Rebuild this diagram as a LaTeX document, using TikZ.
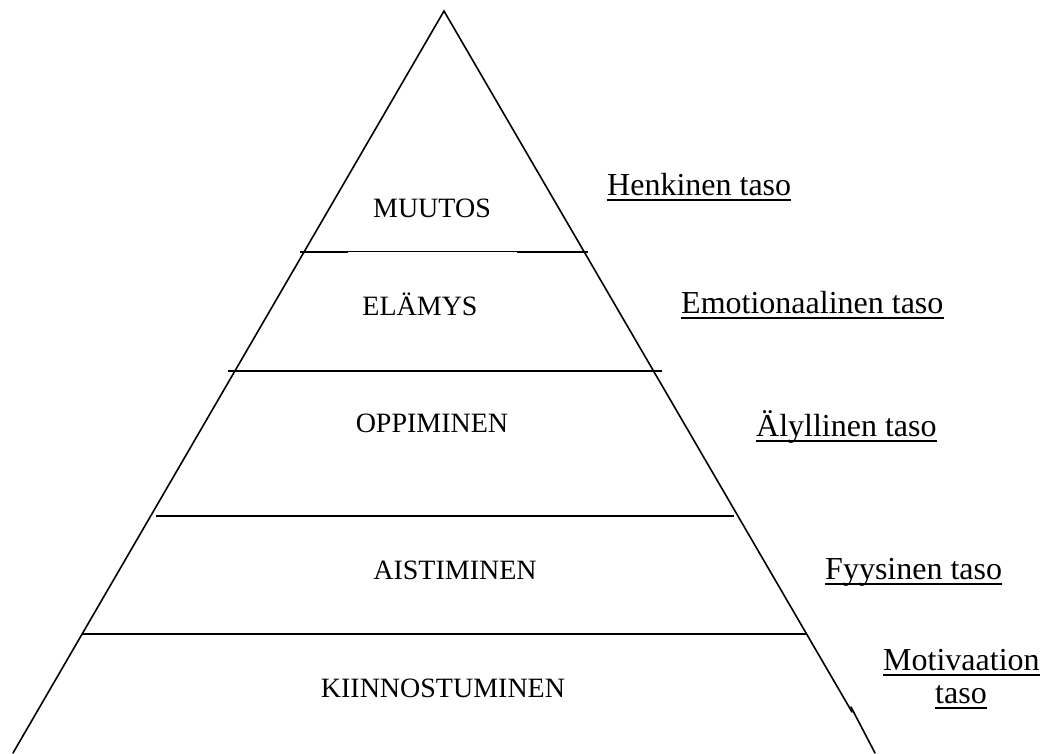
\documentclass[tikz,border=0pt]{standalone}
\usepackage{fontspec}
\setmainfont{Liberation Serif}
\begin{document}
\begin{tikzpicture}[x=1pt,y=-1pt,
  edge/.style={line width=1.6pt, line cap=round},
  sep/.style={line width=1.5pt},
  lvl/.style={font=\fontsize{28}{32}\selectfont, inner sep=0pt, anchor=base},
  tier/.style={font=\fontsize{32}{36}\selectfont, inner sep=0pt, anchor=base west},
  ul/.style={line width=2.2pt}]
\useasboundingbox (0,0) rectangle (1050,753);
% pyramid outline
\coordinate (apex) at (444,11);
\coordinate (bl) at (13,753);
\coordinate (rb1) at (852,712);
\coordinate (rb2) at (851,707);
\coordinate (br) at (875,753);
\draw[edge] (bl) -- (apex) -- (rb1);
\draw[edge] (rb2) -- (br);
% separators
\coordinate (s1a) at (300,251.5); \coordinate (s1b) at (588,251.5);
\coordinate (s1c) at (348,251.5); \coordinate (s1d) at (517,251.5);
\draw[line width=1pt] (s1a) -- (s1b);
\draw[line width=2pt] (s1a) -- (s1c);
\draw[line width=2pt] (s1d) -- (s1b);
\coordinate (s2a) at (228,371); \coordinate (s2b) at (662,371);
\draw[sep] (s2a) -- (s2b);
\coordinate (s3a) at (156,516); \coordinate (s3b) at (734,516);
\draw[sep] (s3a) -- (s3b);
\coordinate (s4a) at (83,634); \coordinate (s4b) at (806,634);
\draw[sep] (s4a) -- (s4b);
% level labels
\node[lvl] (muutos) at (432,217) {MUUTOS};
\node[lvl] (elamys) at (420,315) {ELÄMYS};
\node[lvl] (oppiminen) at (432,432) {OPPIMINEN};
\node[lvl] (aistiminen) at (455,579) {AISTIMINEN};
\node[lvl] (kiinn) at (443,697) {KIINNOSTUMINEN};
% tier labels
\node[tier] (henk) at (607,195) {Henkinen taso};
\node[tier] (emo) at (681,313) {Emotionaalinen taso};
\node[tier] (aly) at (756,436) {Älyllinen taso};
\node[tier] (fyys) at (825,579) {Fyysinen taso};
\node[tier] (moti) at (883,670) {Motivaation};
\node[tier, anchor=base] (taso) at (961,703) {taso};
\foreach \n in {henk,emo,aly,fyys,moti,taso}
  \draw[ul] ([yshift=-5pt]\n.base west) -- ([yshift=-5pt]\n.base east);
\end{tikzpicture}
\end{document}
